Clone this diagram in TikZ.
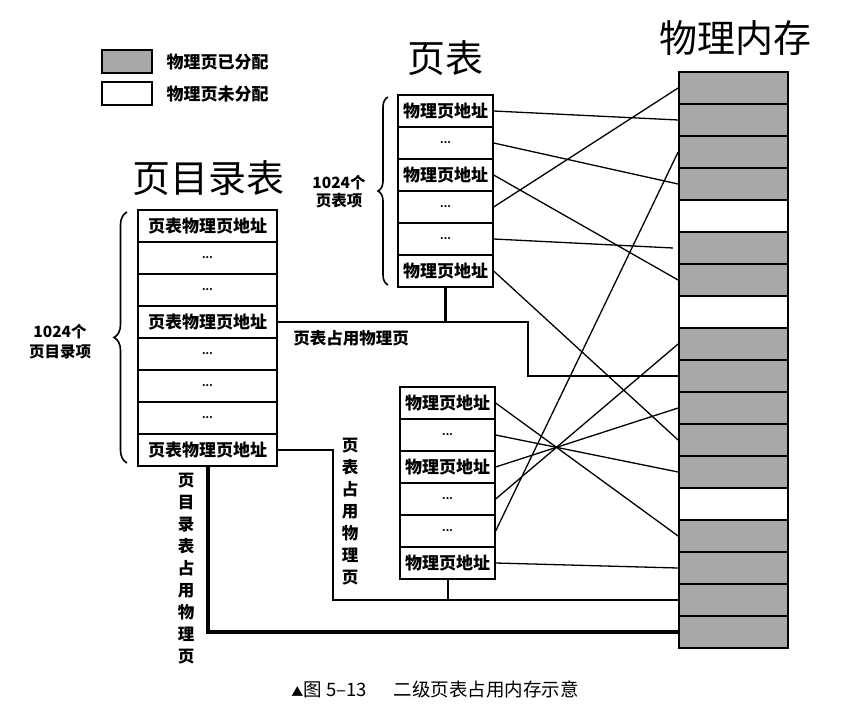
\documentclass[tikz,border=0pt]{standalone}
\usepackage{fontspec}
\setmainfont{Noto Sans CJK SC}
\usetikzlibrary{decorations.pathreplacing}
\definecolor{memgray}{RGB}{168,168,168}
\tikzset{
  row/.style={draw, line width=1.3pt, inner sep=0pt, minimum height=32pt, font=\fontsize{17}{19}\selectfont\bfseries},
  drow/.style={row, minimum width=139pt},
  urow/.style={row, minimum width=95pt},
  mslot/.style={draw, line width=1.8pt, inner sep=0pt, minimum width=109pt, minimum height=32pt},
  used/.style={mslot, fill=memgray},
  free/.style={mslot, fill=white},
  title/.style={font=\fontsize{38}{42}\selectfont},
  lab/.style={font=\fontsize{17}{19}\selectfont\bfseries, align=center},
  vlab/.style={font=\fontsize{16.5}{22}\selectfont\bfseries, align=center},
  link/.style={line width=1.3pt},
  dots/.style={font=\fontsize{10}{12}\selectfont\bfseries}
}
\begin{document}
\begin{tikzpicture}[x=1pt,y=-1pt]
\useasboundingbox (0,0) rectangle (848,709);
% legend
\node[used, minimum width=50pt, minimum height=23pt, line width=1.5pt] (lg1) at (127,61.5) {};
\node[free, minimum width=50pt, minimum height=23pt, line width=1.5pt] (lg2) at (127,93.5) {};
\node[lab, anchor=west] (lt1) at (163,62) {物理页已分配};
\node[lab, anchor=west] (lt2) at (163,94) {物理页未分配};
% titles
\node[title] (t1) at (208,178) {页目录表};
\node[title] (t2) at (445,58) {页表};
\node[title] (t3) at (735,38) {物理内存};
% memory
\foreach \i/\s in {1/used,2/used,3/used,4/used,5/free,6/used,7/used,8/free,9/used,10/used,11/used,12/used,13/used,14/free,15/used,16/used,17/used,18/used}{
  \node[\s] (m\i) at (733.5,{88+32*(\i-1)}) {};
}
% directory
\foreach \i/\t in {1/页表物理页地址,2/,3/,4/页表物理页地址,5/,6/,7/,8/页表物理页地址}{
  \node[drow] (d\i) at (207.5,{226+32*(\i-1)}) {\t};
}
\foreach \i in {2,3,5,6,7}{ \node[dots] (dd\i) at (d\i) {...}; }
% upper page table
\foreach \i/\t in {1/物理页地址,2/,3/物理页地址,4/,5/,6/物理页地址}{
  \node[urow] (u\i) at (445.5,{111+32*(\i-1)}) {\t};
}
\foreach \i in {2,4,5}{ \node[dots] (ud\i) at (u\i) {...}; }
% lower page table
\foreach \i/\t in {1/物理页地址,2/,3/物理页地址,4/,5/,6/物理页地址}{
  \node[urow] (l\i) at (447.5,{403+32*(\i-1)}) {\t};
}
\foreach \i in {2,4,5}{ \node[dots] (ld\i) at (l\i) {...}; }
% braces
\draw[line width=1.6pt, decorate, decoration={brace, amplitude=10pt}] (388,285) -- (388,97);
\draw[line width=1.6pt, decorate, decoration={brace, amplitude=13pt}] (127,463) -- (127,212);
\node[lab, font=\fontsize{15.5}{18}\selectfont\bfseries] (b1) at (339,192) {1024个\\页表项};
\node[lab, font=\fontsize{15.5}{20}\selectfont\bfseries] (b2) at (60,342) {1024个\\页目录项};
% links upper table
\draw[link] (u1.east) -- (m2.west);
\draw[link] (u2.east) -- (m4.west);
\draw[link] (u3.east) -- (m7.west);
\draw[link] (u4.east) -- (m1.west);
\draw[link] (u5.east) -- ([xshift=-5pt]m6.west);
\draw[link] (u6.east) -- (m12.west);
% links lower table
\draw[link] (l1.east) -- (m15.west);
\draw[link] (l2.east) -- (m13.west);
\draw[link] (l3.east) -- (m11.west);
\draw[link] (l4.east) -- (m9.west);
\draw[link] (l5.east) -- (m3.west);
\draw[link] (l6.east) -- (m16.west);
% page-table occupancy lines
\coordinate (c1) at (528,322);
\draw[line width=2.6pt] (d4.east) -- (c1) |- (m10.west);
\draw[line width=2.6pt] (u6.south) -- (u6.south |- c1);
\coordinate (c2) at (333,450);
\draw[line width=2pt] (d8.east) -- (c2) |- (m17.west);
\draw[line width=2pt] (l6.south) -- (l6.south |- m17.west);
\coordinate (c3) at (207.5,632);
\draw[line width=4pt] (d8.south) -- (c3) -- (m18.west);
% labels
\node[lab, font=\fontsize{16.5}{19}\selectfont\bfseries] (p1) at (351,338) {页表占用物理页};
\node[vlab] (p2) at (350,512) {页\\表\\占\\用\\物\\理\\页};
\node[vlab] (p3) at (186,569) {页\\目\\录\\表\\占\\用\\物\\理\\页};
% caption
\node[font=\fontsize{18.5}{21}\selectfont] (cap) at (435,689) {{\fontsize{12}{12}\selectfont ▲}图 5–13\quad\ \ 二级页表占用内存示意};
\end{tikzpicture}
\end{document}
